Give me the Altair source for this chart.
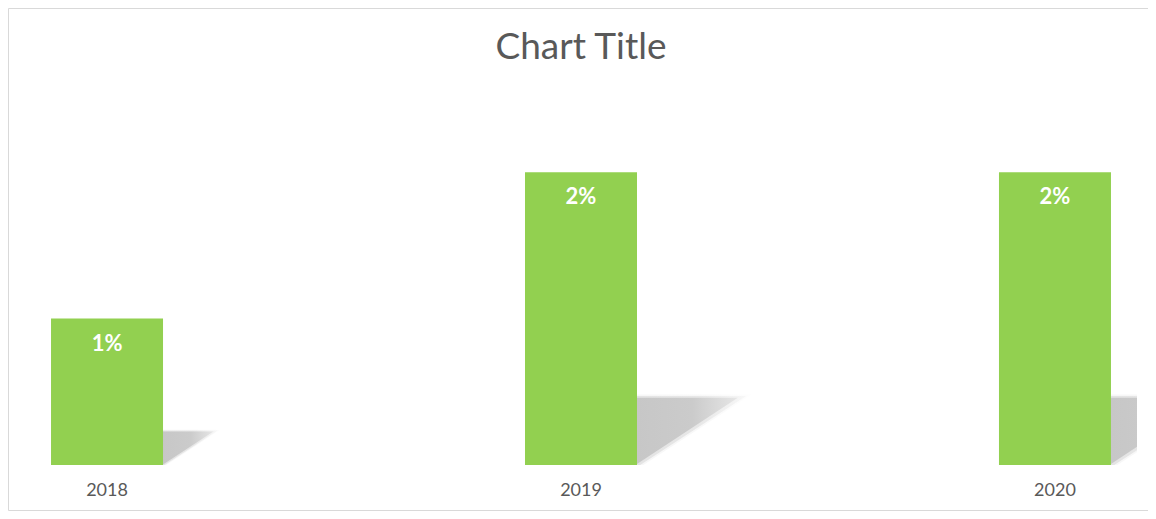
import altair as alt
import pandas as pd

years = ["2018", "2019", "2020"]
values = [0.01, 0.02, 0.02]

df = pd.DataFrame({"year": years, "value": values})

FONT = "Lato"
GREY = "#595959"

x_scale = alt.Scale(paddingInner=0.7637, paddingOuter=0.0549, round=False)
y_scale = alt.Scale(domain=[0, 0.025], nice=False, zero=True)

x_axis = alt.Axis(title=None, labelAngle=0, domain=False, ticks=False, grid=False,
                  labelColor=GREY, labelFont=FONT, labelFontSize=18, labelPadding=16)

base = alt.Chart(df)


def shadow_layer(path, opacity, c0, c1, c2):
    return base.transform_calculate(base="0").mark_point(
        shape=path,
        filled=True,
        opacity=opacity,
        strokeWidth=0,
        clip=True,
        fill=alt.Gradient(
            gradient="linear",
            stops=[alt.GradientStop(color=c0, offset=0),
                   alt.GradientStop(color=c1, offset=0.55),
                   alt.GradientStop(color=c2, offset=1)],
            x1=0, x2=1, y1=0, y2=0),
    ).encode(
        x=alt.X("year:N", bandPosition=1, scale=x_scale, axis=x_axis),
        y=alt.Y("base:Q", scale=y_scale, axis=None),
        size=alt.Size("value:Q", legend=None,
                      scale=alt.Scale(type="pow", exponent=2, domain=[0, 0.025], range=[0, 68906])),
    )


shadow_outer = shadow_layer("M0,0.04L0,-0.672L1.09,-0.672Z", 0.3, "#e4e4e4", "#e8e8e8", "#fbfbfb")
shadow_mid = shadow_layer("M0,0.02L0,-0.656L1.04,-0.656Z", 0.55, "#d4d4d4", "#d9d9d9", "#f3f3f3")
shadow_core = shadow_layer("M0,-0.01L0,-0.64L0.96,-0.64Z", 1, "#c7c7c7", "#cbcbcb", "#e6e6e6")

bars = base.mark_bar(color="#92d050").encode(
    x=alt.X("year:N", scale=x_scale, axis=x_axis),
    y=alt.Y("value:Q", scale=y_scale, axis=None),
)

labels = base.mark_text(dy=25, color="white", fontWeight="bold", font=FONT, fontSize=22).encode(
    x=alt.X("year:N", scale=x_scale, axis=x_axis),
    y=alt.Y("value:Q", scale=y_scale, axis=None),
    text=alt.Text("value:Q", format=".0%"),
)

frame = alt.Chart(pd.DataFrame({"f": [0]})).mark_rect(
    fillOpacity=0, stroke="#d9d9d9", strokeWidth=1
).encode(
    x=alt.value(-16.5), x2=alt.value(1140), y=alt.value(-90.5), y2=alt.value(411.5)
)

chart = alt.layer(frame, shadow_outer, shadow_mid, shadow_core, bars, labels).properties(
    width=1112,
    height=366,
    autosize="none",
    background="white",
    padding={"left": 17, "top": 91, "right": 11, "bottom": 46},
    title=alt.TitleParams("Chart Title", font=FONT, fontSize=37, color=GREY,
                          fontWeight="normal", anchor="middle", frame="group",
                          baseline="alphabetic", offset=-88),
).configure_view(stroke="transparent")

chart.save("out.html", embed_options={"renderer": "svg", "actions": False})
